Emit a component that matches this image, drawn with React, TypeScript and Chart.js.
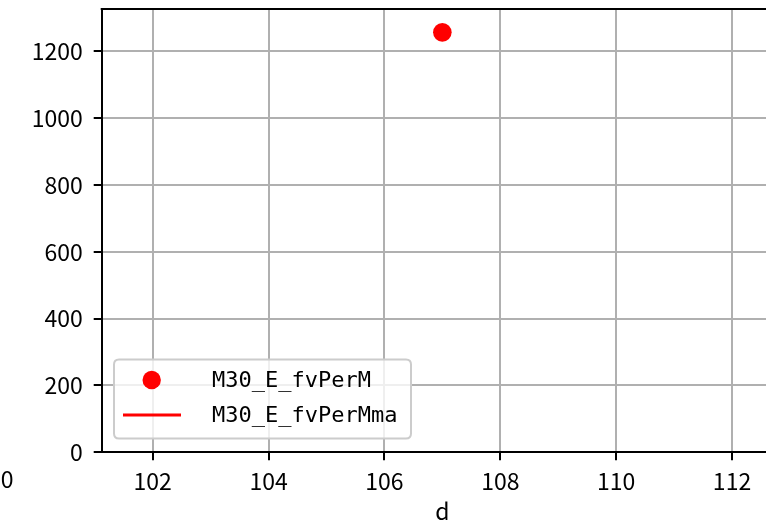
import React, { useEffect, useRef } from "react";
import { Chart, registerables } from "chart.js";

Chart.register(...registerables);

// ---- data ----
const pointSeriesLabel = "M30_E_fvPerM";
const maSeriesLabel = "M30_E_fvPerMma";
const pointX: number[] = [107];
const pointY: number[] = [1257];
const maX: number[] = [];
const maY: number[] = [];
const xTickValues: number[] = [102, 104, 106, 108, 110, 112];
const yTickValues: number[] = [0, 200, 400, 600, 800, 1000, 1200];
const xAxisTitle = "d";
const strayLabel = "0";

const MONO = "'DejaVu Sans Mono', monospace";
const TICKFONT = "'Noto Sans CJK SC', 'DejaVu Sans', sans-serif";

export default function App() {
  const ref = useRef<HTMLCanvasElement | null>(null);

  useEffect(() => {
    const canvas = ref.current;
    if (!canvas) return;

    const framePlugin = {
      id: "frame",
      afterDatasetsDraw(chart: any) {
        const { ctx, chartArea } = chart;
        ctx.save();
        ctx.strokeStyle = "#000";
        ctx.lineWidth = 2;
        ctx.beginPath();
        ctx.moveTo(chartArea.left - 1, Math.round(chartArea.top));
        ctx.lineTo(chartArea.right + 1, Math.round(chartArea.top));
        ctx.moveTo(Math.round(chartArea.right), chartArea.top);
        ctx.lineTo(Math.round(chartArea.right), chartArea.bottom);
        ctx.stroke();
        ctx.restore();
      },
    };

    const legendPlugin = {
      id: "mplLegend",
      afterDraw(chart: any) {
        const { ctx } = chart;
        const ds = chart.data.datasets;
        const x0 = 114, y0 = 359.5, w = 297, h = 79, r = 5;
        ctx.save();
        ctx.beginPath();
        ctx.moveTo(x0 + r, y0);
        ctx.lineTo(x0 + w - r, y0);
        ctx.quadraticCurveTo(x0 + w, y0, x0 + w, y0 + r);
        ctx.lineTo(x0 + w, y0 + h - r);
        ctx.quadraticCurveTo(x0 + w, y0 + h, x0 + w - r, y0 + h);
        ctx.lineTo(x0 + r, y0 + h);
        ctx.quadraticCurveTo(x0, y0 + h, x0, y0 + h - r);
        ctx.lineTo(x0, y0 + r);
        ctx.quadraticCurveTo(x0, y0, x0 + r, y0);
        ctx.closePath();
        ctx.fillStyle = "rgba(255,255,255,0.8)";
        ctx.fill();
        ctx.strokeStyle = "#cccccc";
        ctx.lineWidth = 2;
        ctx.stroke();

        // marker row
        ctx.fillStyle = ds[0].backgroundColor;
        ctx.beginPath();
        ctx.arc(151.7, 380, 9.2, 0, Math.PI * 2);
        ctx.fill();
        // line row
        ctx.strokeStyle = ds[1].borderColor;
        ctx.lineWidth = 3;
        ctx.beginPath();
        ctx.moveTo(123, 415);
        ctx.lineTo(181, 415);
        ctx.stroke();

        ctx.fillStyle = "#000";
        ctx.font = `22px ${MONO}`;
        ctx.textAlign = "left";
        ctx.textBaseline = "middle";
        ctx.fillText(ds[0].label, 212, 381);
        ctx.fillText(ds[1].label, 212, 416);

        ctx.font = `23px ${TICKFONT}`;
        ctx.textAlign = "right";
        ctx.fillText(strayLabel, 13.5, 479);
        ctx.restore();
      },
    };

    const chart = new Chart(canvas, {
      type: "scatter",
      data: {
        datasets: [
          {
            label: pointSeriesLabel,
            data: pointX.map((x, i) => ({ x, y: pointY[i] })),
            backgroundColor: "#ff0000",
            borderColor: "#ff0000",
            borderWidth: 0,
            pointRadius: 9.3,
            showLine: false,
          },
          {
            label: maSeriesLabel,
            data: maX.map((x, i) => ({ x, y: maY[i] })),
            backgroundColor: "#ff0000",
            borderColor: "#ff0000",
            borderWidth: 3,
            pointRadius: 0,
            showLine: true,
          },
        ],
      },
      options: {
        animation: false,
        responsive: false,
        devicePixelRatio: 1,
        layout: { padding: { left: 0, top: 6.7, right: 17, bottom: 0 } },
        plugins: {
          legend: { display: false },
          tooltip: { enabled: false },
        },
        scales: {
          x: {
            type: "linear",
            min: 101.12,
            max: 112.88,
            afterBuildTicks: (s: any) => {
              s.ticks = xTickValues.map((v) => ({ value: v }));
            },
            afterFit: (s: any) => {
              s.height = 530 - 452.3;
              s.paddingLeft = 0;
              s.paddingRight = 0;
            },
            grid: {
              color: "#b0b0b0",
              lineWidth: 2,
              tickColor: "#000",
              tickWidth: 2,
              tickLength: 8,
            },
            border: { display: true, color: "#000", width: 2 },
            ticks: {
              color: "#000",
              font: { family: TICKFONT, size: 23 },
              padding: 7,
              maxRotation: 0,
              autoSkip: false,
              callback: (v: any) => String(v),
            },
            title: {
              display: true,
              text: xAxisTitle,
              color: "#000",
              font: { family: TICKFONT, size: 23, lineHeight: 1 },
              padding: { top: 0, bottom: 7 },
            },
          },
          y: {
            type: "linear",
            min: 0,
            max: 1326,
            afterBuildTicks: (s: any) => {
              s.ticks = yTickValues.map((v) => ({ value: v }));
            },
            afterFit: (s: any) => {
              s.width = 101.7;
              s.paddingTop = 0;
              s.paddingBottom = 0;
            },
            grid: {
              color: "#b0b0b0",
              lineWidth: 2,
              tickColor: "#000",
              tickWidth: 2,
              tickLength: 8,
            },
            border: { display: true, color: "#000", width: 2 },
            ticks: {
              color: "#000",
              font: { family: TICKFONT, size: 23 },
              padding: 11,
              autoSkip: false,
              callback: (v: any) => String(v),
            },
          },
        },
      },
      plugins: [framePlugin, legendPlugin],
    } as any);

    return () => chart.destroy();
  }, []);

  return (
    <div
      style={{
        position: "fixed",
        left: 0,
        top: 0,
        width: 766,
        height: 523,
        overflow: "hidden",
        background: "#fff",
      }}
    >
      <canvas ref={ref} width={800} height={530} style={{ width: 800, height: 530, display: "block" }} />
    </div>
  );
}
